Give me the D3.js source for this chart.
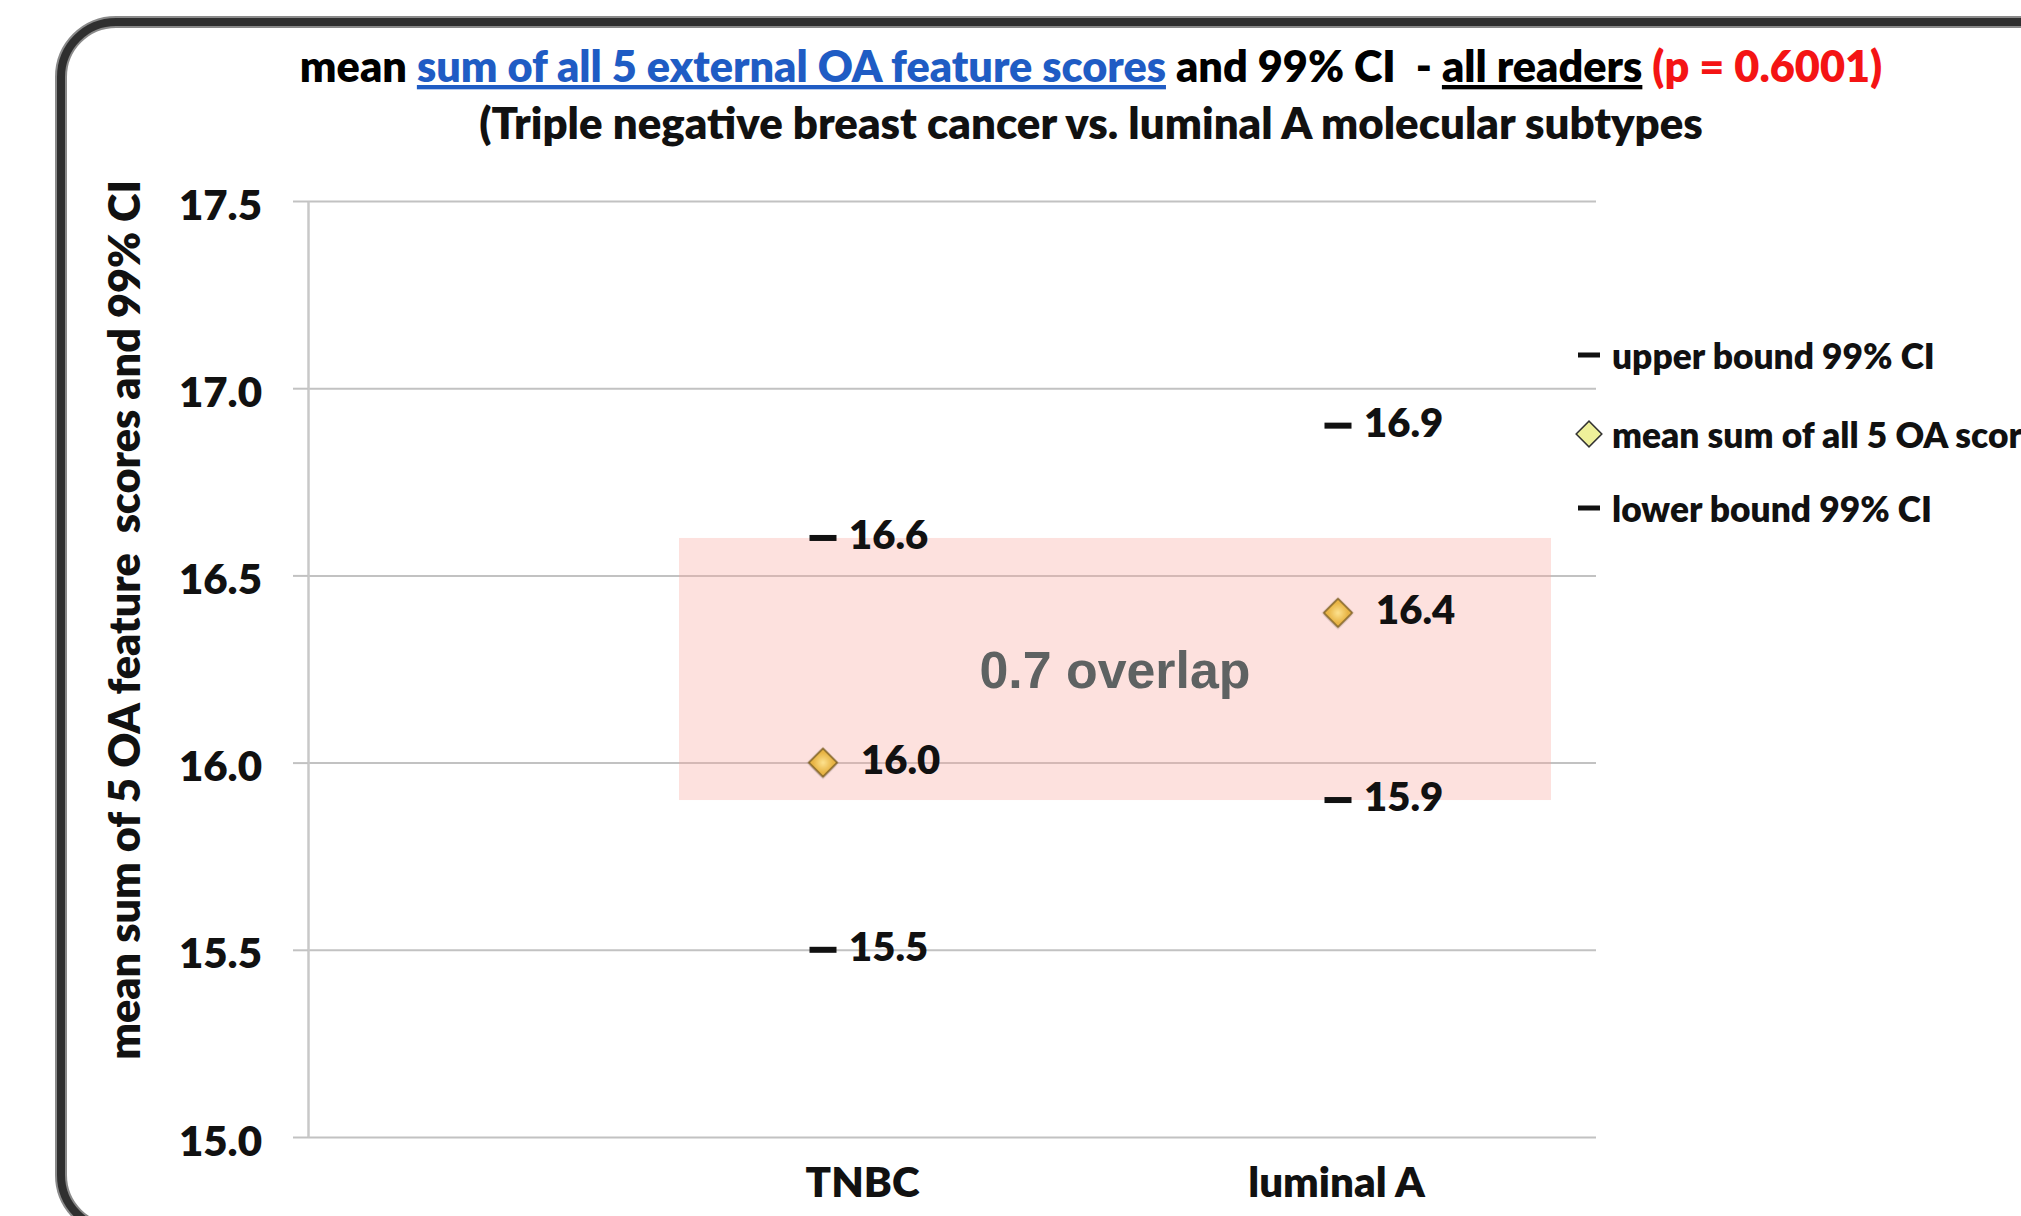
<!DOCTYPE html>
<html>
<head>
<meta charset="utf-8">
<script src="https://cdn.jsdelivr.net/npm/d3@7"></script>
<style>
  body { margin: 0; background: #fff; overflow: hidden; }
  svg { display: block; }
  text { font-family: Lato, "Noto Sans", sans-serif; font-weight: 800; white-space: pre; }
</style>
</head>
<body>
<div id="chart"></div>
<script>
// values
const categories = ["TNBC", "luminal A"];
const upperBound = [16.6, 16.9];
const meanScore = [16.0, 16.4];
const lowerBound = [15.5, 15.9];
const yTicks = [15.0, 15.5, 16.0, 16.5, 17.0, 17.5];
const overlapRange = [15.9, 16.6];
const overlapLabel = "0.7 overlap";
const legendLabels = ["upper bound 99% CI", "mean sum of all 5 OA scores", "lower bound 99% CI"];
const titleParts = [
  { text: "mean ", color: "#000", underline: false },
  { text: "sum of all 5 external OA feature scores", color: "#1f5cc4", underline: true },
  { text: " and 99% CI  - ", color: "#000", underline: false },
  { text: "all readers", color: "#000", underline: true },
  { text: " (p = 0.6001)", color: "#f41414", underline: false }
];
const subtitle = "(Triple negative breast cancer vs. luminal A molecular subtypes";
const yTitle = "mean sum of 5 OA feature  scores and 99% CI";

const W = 2021, H = 1216;
const plot = { left: 308, right: 1596, top: 201, bottom: 1137 };

const svg = d3.select("#chart").append("svg")
  .attr("width", W)
  .attr("height", H);

const defs = svg.append("defs");
const grad = defs.append("radialGradient").attr("id", "gold");
grad.append("stop").attr("offset", "0%").attr("stop-color", "#fde28f");
grad.append("stop").attr("offset", "100%").attr("stop-color", "#e8b444");
defs.append("filter").attr("id", "shadow")
  .append("feDropShadow")
  .attr("dx", 1).attr("dy", 2).attr("stdDeviation", 2)
  .attr("flood-color", "#000").attr("flood-opacity", 0.25);

// stretch text so it spans the same width as in the picture
function fitWidth(sel, target) {
  const len = sel.node().getComputedTextLength();
  const fs = parseFloat(sel.style("font-size"));
  sel.style("font-size", (fs * target / len) + "px");
}

// scales
const y = d3.scaleLinear().domain([15, 17.5]).range([plot.bottom, plot.top]);
const xMark = d3.scalePoint().domain(categories).range([823, 1338]);
const xLabel = d3.scalePoint().domain(categories).range([862, 1336]);
const fmt = d3.format(".1f");

// gridlines
svg.append("g")
  .attr("transform", `translate(${plot.left},0)`)
  .call(d3.axisLeft(y).tickValues(yTicks).tickSize(-(plot.right - plot.left)).tickFormat(""))
  .call(g => g.select(".domain").remove())
  .call(g => g.selectAll("line").attr("stroke", "#c2c2c2").attr("stroke-width", 2));

// y axis with labels
svg.append("g")
  .attr("transform", `translate(${plot.left},0)`)
  .call(d3.axisLeft(y).tickValues(yTicks).tickSizeInner(15).tickSizeOuter(0).tickPadding(31).tickFormat(fmt))
  .call(g => g.select(".domain").attr("stroke", "#c8c8c8").attr("stroke-width", 2.5))
  .call(g => g.selectAll("line").attr("stroke", "#c2c2c2").attr("stroke-width", 2))
  .call(g => g.selectAll("text")
    .style("font-size", "42px")
    .attr("fill", "#111")
    .attr("dy", null)
    .attr("y", 18));

// x axis labels
svg.append("g")
  .attr("transform", `translate(0,${plot.bottom})`)
  .call(d3.axisBottom(xLabel).tickSize(0).tickPadding(0))
  .call(g => g.select(".domain").remove())
  .call(g => g.selectAll("text")
    .style("font-size", "42px")
    .attr("fill", "#111")
    .attr("dy", null)
    .attr("y", 60));

// overlap band
svg.append("rect")
  .attr("x", 679)
  .attr("width", 1551 - 679)
  .attr("y", y(overlapRange[1]))
  .attr("height", y(overlapRange[0]) - y(overlapRange[1]))
  .attr("fill", "#f8a49c")
  .attr("opacity", 0.33);

const ov = svg.append("text")
  .attr("x", (679 + 1551) / 2)
  .attr("y", (y(overlapRange[0]) + y(overlapRange[1])) / 2 + 19)
  .attr("text-anchor", "middle")
  .style("font-family", "'Liberation Sans', Arial, sans-serif")
  .style("font-weight", "bold")
  .style("font-size", "48px")
  .attr("fill", "#5e6262")
  .text(overlapLabel);
fitWidth(ov, 271);

// marks: dashes for the CI bounds, diamonds for the means
const marks = [];
categories.forEach((c, i) => {
  marks.push({ cat: c, value: upperBound[i], kind: "dash" });
  marks.push({ cat: c, value: meanScore[i], kind: "diamond" });
  marks.push({ cat: c, value: lowerBound[i], kind: "dash" });
});

svg.selectAll(".dash")
  .data(marks.filter(d => d.kind === "dash"))
  .enter()
  .append("rect")
  .attr("class", "dash")
  .attr("x", d => xMark(d.cat) - 13.5)
  .attr("y", d => y(d.value) - 3)
  .attr("width", 27)
  .attr("height", 6)
  .attr("fill", "#111");

const diamond = d3.symbol().type(d3.symbolSquare).size(400);
svg.selectAll(".diamond")
  .data(marks.filter(d => d.kind === "diamond"))
  .enter()
  .append("path")
  .attr("class", "diamond")
  .attr("d", diamond)
  .attr("transform", d => `translate(${xMark(d.cat)},${y(d.value)}) rotate(45)`)
  .attr("fill", "url(#gold)")
  .attr("stroke", "#7d5f22")
  .attr("stroke-width", 1.5)
  .attr("filter", "url(#shadow)");

svg.selectAll(".val")
  .data(marks)
  .enter()
  .append("text")
  .attr("class", "val")
  .attr("x", d => xMark(d.cat) + (d.kind === "dash" ? 26 : 38))
  .attr("y", d => y(d.value) + 11)
  .style("font-size", "40px")
  .attr("fill", "#111")
  .text(d => fmt(d.value));

// legend
const legend = svg.append("g").attr("transform", "translate(1589,0)");
const legendY = [355, 434, 508];
let legendSize = null;
legendLabels.forEach((label, i) => {
  const row = legend.append("g").attr("transform", `translate(0,${legendY[i]})`);
  if (i === 1) {
    row.append("path")
      .attr("d", d3.symbol().type(d3.symbolSquare).size(330)())
      .attr("transform", "rotate(45)")
      .attr("fill", "#eef09a")
      .attr("stroke", "#333")
      .attr("stroke-width", 1.5);
  } else {
    row.append("rect")
      .attr("x", -11).attr("y", -2.5)
      .attr("width", 22).attr("height", 5)
      .attr("fill", "#111");
  }
  const t = row.append("text")
    .attr("x", 23)
    .attr("y", 14)
    .style("font-size", "32px")
    .attr("fill", "#111")
    .text(label);
  if (i === 0) { fitWidth(t, 323); legendSize = t.style("font-size"); }
  else t.style("font-size", legendSize);
});

// titles
const title = svg.append("text")
  .attr("x", 1091)
  .attr("y", 82)
  .attr("text-anchor", "middle")
  .style("font-size", "42px");
title.selectAll("tspan")
  .data(titleParts)
  .enter()
  .append("tspan")
  .attr("fill", d => d.color)
  .style("text-decoration", d => d.underline ? "underline" : "none")
  .text(d => d.text);
fitWidth(title, 1583);

const sub = svg.append("text")
  .attr("x", 1091)
  .attr("y", 139)
  .attr("text-anchor", "middle")
  .style("font-size", "42px")
  .attr("fill", "#111")
  .text(subtitle);
fitWidth(sub, 1224);

const yt = svg.append("text")
  .attr("transform", "translate(140,620) rotate(-90)")
  .attr("text-anchor", "middle")
  .style("font-size", "42px")
  .attr("fill", "#111")
  .text(yTitle);
fitWidth(yt, 880);

// rounded frame running off the right and bottom edges
svg.append("rect")
  .attr("x", 61).attr("y", 22)
  .attr("width", 2300).attr("height", 1208)
  .attr("rx", 55)
  .attr("fill", "none")
  .attr("stroke", "#8a8a8a")
  .attr("stroke-width", 12);
svg.append("rect")
  .attr("x", 61).attr("y", 22)
  .attr("width", 2300).attr("height", 1208)
  .attr("rx", 55)
  .attr("fill", "none")
  .attr("stroke", "#2f2f2f")
  .attr("stroke-width", 8);
</script>
</body>
</html>
